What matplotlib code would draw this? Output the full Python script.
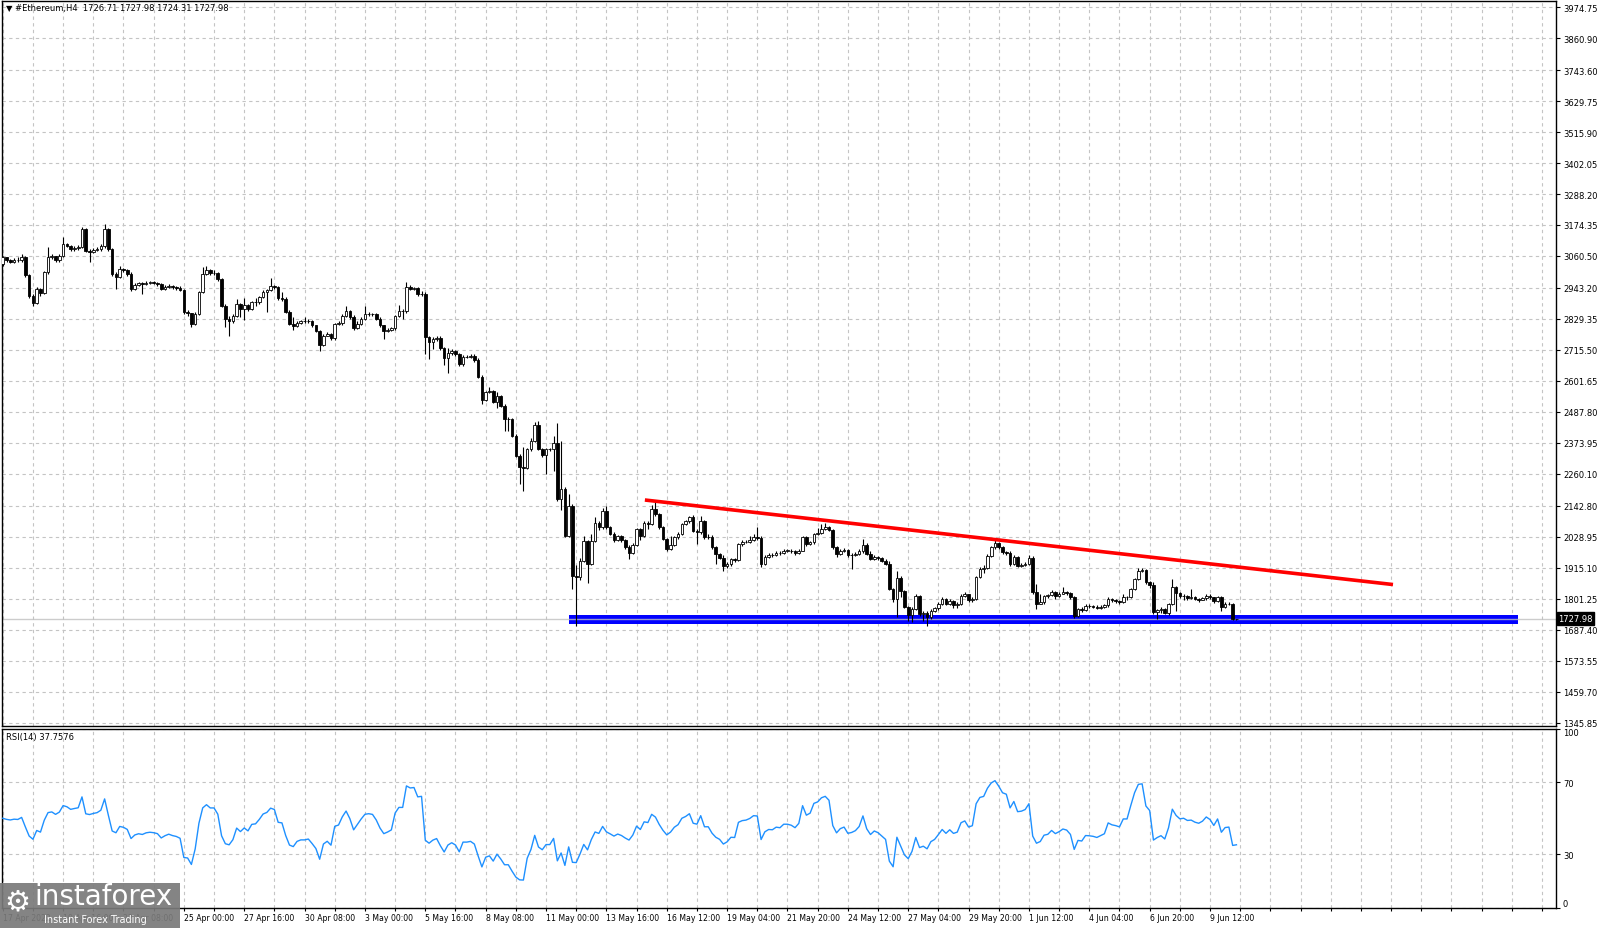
"""ETH/USD H4 candles with a descending trendline, support zone and RSI(14) pane."""

import numpy as np
import matplotlib
matplotlib.use("Agg")
import matplotlib.pyplot as plt
from matplotlib.patches import Rectangle

HEADER = "\u25bc #Ethereum,H4  1726.71 1727.98 1724.31 1727.98"
RSI_TITLE = "RSI(14) 37.7576"

FIRST_OPEN = 3030.0
CLOSES = [
    3055, 3045, 3040, 3046, 3044, 3058, 2990, 2915, 2886, 2938,
    2925, 3000, 3055, 3060, 3045, 3060, 3104, 3098, 3085, 3090,
    3094, 3160, 3080, 3076, 3082, 3086, 3098, 3160, 3086, 2994,
    2982, 3013, 3008, 2996, 2940, 2955, 2960, 2956, 2962, 2964,
    2962, 2958, 2940, 2946, 2950, 2945, 2942, 2936, 2853, 2850,
    2811, 2847, 2927, 2994, 3010, 2998, 2998, 2976, 2878, 2829,
    2822, 2840, 2884, 2866, 2880, 2866, 2890, 2892, 2908, 2928,
    2934, 2950, 2946, 2905, 2903, 2855, 2810, 2802, 2816, 2820,
    2820, 2822, 2805, 2785, 2732, 2768, 2775, 2758, 2810, 2814,
    2840, 2860, 2836, 2795, 2812, 2830, 2846, 2848, 2846, 2830,
    2805, 2786, 2790, 2795, 2840, 2858, 2858, 2945, 2940, 2942,
    2920, 2922, 2762, 2745, 2755, 2760, 2722, 2684, 2705, 2712,
    2700, 2662, 2690, 2690, 2692, 2680, 2617, 2532, 2560, 2564,
    2525, 2545, 2510, 2462, 2462, 2400, 2327, 2285, 2282, 2350,
    2382, 2440, 2352, 2328, 2350, 2350, 2375, 2167, 2205, 2032,
    2143, 1886, 1880, 1940, 2013, 1930, 2013, 2080, 2063, 2124,
    2063, 2040, 2015, 2030, 2015, 1990, 1970, 2000, 2057, 2030,
    2080, 2075, 2130, 2112, 2063, 2020, 1985, 2000, 2026, 2040,
    2075, 2085, 2100, 2050, 2045, 2087, 2027, 2027, 1990, 1965,
    1952, 1922, 1930, 1946, 1945, 2001, 2008, 2010, 2016, 2026,
    2025, 1929, 1955, 1963, 1962, 1970, 1968, 1978, 1978, 1975,
    1968, 1978, 2027, 2002, 2008, 2039, 2044, 2058, 2063, 2055,
    1990, 1965, 1976, 1980, 1960, 1962, 1966, 1975, 2000, 1965,
    1947, 1955, 1950, 1940, 1930, 1837, 1800, 1878, 1830, 1770,
    1740, 1763, 1812, 1745, 1750, 1732, 1757, 1765, 1782, 1800,
    1782, 1794, 1778, 1782, 1812, 1818, 1796, 1800, 1880, 1910,
    1915, 1958, 1990, 2005, 1990, 1972, 1968, 1928, 1955, 1922,
    1924, 1930, 1952, 1824, 1782, 1788, 1810, 1813, 1826, 1812,
    1818, 1826, 1822, 1806, 1738, 1763, 1760, 1775, 1774, 1772,
    1768, 1772, 1776, 1800, 1795, 1793, 1790, 1806, 1806, 1836,
    1873, 1904, 1906, 1861, 1850, 1751, 1758, 1763, 1750, 1780,
    1843, 1822, 1810, 1812, 1805, 1806, 1800, 1797, 1802, 1812,
    1806, 1792, 1806, 1772, 1782, 1783, 1726.71, 1727.98,
]
HIGHS = [
    3062, 3058, 3050, 3052, 3055, 3066, 3060, 2995, 2920, 2945,
    2942, 3006, 3092, 3068, 3062, 3066, 3129, 3110, 3102, 3096,
    3100, 3166, 3162, 3086, 3088, 3092, 3104, 3178, 3162, 3090,
    3000, 3022, 3018, 3012, 3000, 2962, 2966, 2964, 2968, 2970,
    2968, 2964, 2962, 2952, 2956, 2953, 2950, 2950, 2940, 2862,
    2852, 2855, 2932, 3019, 3022, 3014, 3008, 3002, 2980, 2884,
    2840, 2846, 2903, 2888, 2905, 2884, 2895, 2905, 2914, 2935,
    2940, 2980, 2955, 2950, 2928, 2910, 2862, 2835, 2822, 2826,
    2835, 2828, 2826, 2808, 2790, 2772, 2782, 2778, 2816, 2822,
    2846, 2878, 2862, 2842, 2820, 2835, 2876, 2855, 2852, 2850,
    2835, 2808, 2796, 2800, 2845, 2880, 2866, 2964, 2955, 2948,
    2945, 2930, 2928, 2768, 2762, 2766, 2765, 2725, 2722, 2718,
    2716, 2704, 2698, 2696, 2700, 2700, 2684, 2622, 2566, 2580,
    2568, 2560, 2550, 2515, 2468, 2466, 2405, 2332, 2360, 2356,
    2390, 2450, 2455, 2356, 2356, 2356, 2400, 2448, 2380, 2210,
    2186, 2150, 1925, 1950, 2033, 2018, 2040, 2100, 2085, 2136,
    2140, 2068, 2045, 2036, 2034, 2020, 1998, 2006, 2062, 2060,
    2086, 2088, 2145, 2155, 2116, 2068, 2025, 2032, 2032, 2046,
    2080, 2092, 2106, 2108, 2058, 2106, 2090, 2040, 2034, 1996,
    1970, 1962, 1936, 1952, 1952, 2006, 2016, 2016, 2030, 2040,
    2063, 2032, 1962, 1970, 1968, 1976, 1976, 1984, 1984, 1982,
    1980, 1984, 2032, 2030, 2014, 2044, 2060, 2075, 2081, 2068,
    2058, 1995, 1982, 1986, 1984, 1968, 1972, 1982, 2020, 2004,
    1975, 1962, 1958, 1956, 1946, 1940, 1842, 1904, 1884, 1834,
    1774, 1770, 1820, 1815, 1756, 1754, 1762, 1772, 1788, 1806,
    1804, 1800, 1798, 1790, 1820, 1826, 1820, 1806, 1886, 1918,
    1925, 1964, 1996, 2015, 2010, 1994, 1978, 1975, 1960, 1958,
    1934, 1936, 1960, 1958, 1856, 1820, 1815, 1818, 1832, 1830,
    1824, 1843, 1830, 1824, 1810, 1768, 1770, 1780, 1780, 1778,
    1776, 1778, 1782, 1806, 1804, 1800, 1798, 1818, 1812, 1840,
    1878, 1912, 1915, 1910, 1866, 1862, 1764, 1770, 1766, 1786,
    1873, 1848, 1826, 1818, 1816, 1836, 1810, 1804, 1808, 1818,
    1818, 1808, 1812, 1810, 1788, 1790, 1786, 1727.98,
]
LOWS = [
    3022, 3040, 3034, 3036, 3038, 3040, 2985, 2905, 2876, 2884,
    2915, 2920, 2996, 3048, 3038, 3040, 3058, 3092, 3078, 3080,
    3084, 3090, 3075, 3037, 3072, 3078, 3080, 3090, 3080, 2988,
    2939, 2978, 3000, 2988, 2933, 2936, 2950, 2920, 2952, 2958,
    2956, 2950, 2936, 2935, 2942, 2940, 2936, 2930, 2848, 2840,
    2798, 2808, 2845, 2925, 2990, 2990, 2990, 2970, 2872, 2798,
    2768, 2815, 2836, 2838, 2825, 2860, 2862, 2878, 2885, 2905,
    2853, 2930, 2940, 2900, 2895, 2850, 2805, 2790, 2798, 2812,
    2815, 2815, 2800, 2780, 2712, 2728, 2765, 2750, 2752, 2805,
    2808, 2836, 2830, 2790, 2792, 2808, 2826, 2840, 2840, 2825,
    2800, 2755, 2782, 2786, 2790, 2836, 2830, 2852, 2935, 2934,
    2915, 2912, 2700, 2682, 2720, 2748, 2716, 2660, 2630, 2698,
    2694, 2656, 2655, 2684, 2686, 2672, 2612, 2516, 2528, 2556,
    2520, 2500, 2505, 2418, 2418, 2395, 2320, 2223, 2198, 2276,
    2345, 2378, 2346, 2322, 2260, 2342, 2270, 2160, 2127, 2027,
    2028, 1836, 1700, 1870, 1936, 1860, 1925, 2008, 2055, 2058,
    2058, 2035, 2010, 2012, 2008, 1985, 1947, 1966, 1996, 2015,
    2026, 2058, 2072, 2106, 2058, 2015, 1978, 1980, 1994, 2020,
    2035, 2070, 2080, 2045, 2002, 2040, 2022, 2020, 1985, 1928,
    1946, 1904, 1915, 1920, 1935, 1940, 1996, 2004, 2006, 2012,
    2018, 1916, 1925, 1952, 1955, 1958, 1962, 1965, 1972, 1970,
    1963, 1965, 1975, 1996, 2000, 2002, 2034, 2040, 2054, 2050,
    1985, 1955, 1962, 1972, 1955, 1910, 1958, 1962, 1970, 1960,
    1942, 1944, 1944, 1935, 1925, 1832, 1790, 1735, 1806, 1765,
    1720, 1714, 1758, 1738, 1720, 1702, 1728, 1752, 1760, 1778,
    1778, 1778, 1766, 1768, 1776, 1806, 1790, 1790, 1796, 1876,
    1895, 1910, 1955, 1985, 1984, 1965, 1960, 1922, 1925, 1918,
    1916, 1922, 1925, 1818, 1763, 1782, 1782, 1804, 1810, 1800,
    1808, 1818, 1815, 1800, 1730, 1734, 1752, 1756, 1766, 1765,
    1762, 1764, 1768, 1772, 1788, 1786, 1782, 1786, 1798, 1802,
    1832, 1868, 1898, 1855, 1842, 1746, 1726, 1750, 1745, 1742,
    1776, 1757, 1802, 1798, 1798, 1800, 1795, 1790, 1795, 1796,
    1800, 1786, 1788, 1757, 1768, 1776, 1722, 1724.31,
]

PRICE_TICKS = [
    3974.75, 3860.90, 3743.60, 3629.75, 3515.90, 3402.05, 3288.20, 3174.35,
    3060.50, 2943.20, 2829.35, 2715.50, 2601.65, 2487.80, 2373.95, 2260.10,
    2142.80, 2028.95, 1915.10, 1801.25, 1687.40, 1573.55, 1459.70, 1345.85,
]
DATE_LABELS = [
    "17 Apr 2022", "19 Apr 16:00", "22 Apr 08:00", "25 Apr 00:00",
    "27 Apr 16:00", "30 Apr 08:00", "3 May 00:00", "5 May 16:00",
    "8 May 08:00", "11 May 00:00", "13 May 16:00", "16 May 12:00",
    "19 May 04:00", "21 May 20:00", "24 May 12:00", "27 May 04:00",
    "29 May 20:00", "1 Jun 12:00", "4 Jun 04:00", "6 Jun 20:00",
    "9 Jun 12:00",
]
BARS_PER_LABEL = 16
BARS_PER_GRID = 8

BID = 1727.98
TREND_BARS = [170.2, 368.5]
TREND_PRICES = [2163.7, 1853.0]
SUPPORT_BARS = [150.2, 401.5]
SUPPORT_PRICES = [1706.8, 1740.6]
RSI_LEVELS = [0, 30, 70, 100]

W, H = 1600, 929
GRID_KW = dict(color="#c4c4c4", linestyle=(0, (3, 3)), linewidth=0.8)


def wilder_rsi(closes, period=14):
    diffs = np.diff(closes)
    avg_gain = avg_loss = np.mean(np.abs(diffs[:period]))
    out = [50.0]
    for d in diffs:
        avg_gain = (avg_gain * (period - 1) + max(d, 0.0)) / period
        avg_loss = (avg_loss * (period - 1) + max(-d, 0.0)) / period
        out.append(100.0 - 100.0 / (1.0 + avg_gain / avg_loss))
    return np.array(out)


def main():
    closes = np.array(CLOSES, dtype=float)
    opens = np.concatenate([[FIRST_OPEN], closes[:-1]])
    highs = np.maximum(np.array(HIGHS, dtype=float), np.maximum(opens, closes))
    lows = np.minimum(np.array(LOWS, dtype=float), np.minimum(opens, closes))
    x = np.arange(len(closes))
    rsi = wilder_rsi(closes)

    fig = plt.figure(figsize=(W / 100, H / 100), dpi=100, facecolor="white")

    def px_axes(left, top, right, bottom):
        return fig.add_axes([left / W, 1 - bottom / H, (right - left) / W, (bottom - top) / H])

    ax = px_axes(2, 2, 1556, 726.5)
    ax_rsi = px_axes(2, 729.5, 1556, 909)
    xlim = (-0.2, 411.7)
    grid_x = np.arange(0, 412, BARS_PER_GRID)

    # price pane
    ax.set_xlim(*xlim)
    ax.set_ylim(1335.0, 3997.5)
    ax.set_xticks(grid_x)
    ax.set_yticks(PRICE_TICKS)
    ax.set_yticklabels([f"{p:.2f}" for p in PRICE_TICKS])
    ax.yaxis.tick_right()
    ax.tick_params(axis="y", direction="out", length=3, width=0.8, pad=2, labelsize=6)
    ax.tick_params(axis="x", length=0, labelbottom=False)
    ax.grid(True, **GRID_KW)
    ax.set_axisbelow(True)

    ax.fill_between(SUPPORT_BARS, SUPPORT_PRICES[0], SUPPORT_PRICES[1],
                    color="#0000ff", linewidth=0, zorder=1)
    ax.axhline(BID, color="#c0c0c0", linewidth=1, alpha=0.8, zorder=1.5)

    up = closes >= opens
    body_lo = np.minimum(opens, closes)
    body_h = np.maximum(np.abs(closes - opens), 0.8)
    ax.vlines(x, lows, highs, color="black", linewidth=0.8, zorder=3)
    ax.bar(x[up], body_h[up], bottom=body_lo[up], width=0.7,
           facecolor="white", edgecolor="black", linewidth=0.6, zorder=4)
    ax.bar(x[~up], body_h[~up], bottom=body_lo[~up], width=0.7,
           facecolor="black", edgecolor="black", linewidth=0.6, zorder=4)

    ax.plot(TREND_BARS, TREND_PRICES, color="#ff0000", linewidth=2.6,
            solid_capstyle="butt", zorder=5)

    ax.text(1.0015, BID, f"{BID:.2f}", transform=ax.get_yaxis_transform(),
            ha="left", va="center", fontsize=6, color="white",
            bbox=dict(boxstyle="square,pad=0.2", facecolor="black", edgecolor="black"))
    ax.text(4 / 1554, 1 - 7 / 724.5, HEADER, transform=ax.transAxes,
            ha="left", va="center", fontsize=6, color="black", zorder=6)

    # RSI pane
    ax_rsi.plot(x, rsi, color="#1e90ff", linewidth=1, zorder=3)
    ax_rsi.set_xlim(*xlim)
    ax_rsi.set_ylim(0, 100)
    ax_rsi.set_yticks(RSI_LEVELS)
    ax_rsi.set_yticklabels([str(v) for v in RSI_LEVELS])
    ax_rsi.yaxis.tick_right()
    ax_rsi.tick_params(axis="y", direction="out", length=3, width=0.8, pad=2, labelsize=6)
    ylabels = ax_rsi.get_yticklabels()
    ylabels[0].set_va("bottom")
    ylabels[-1].set_va("top")

    ax_rsi.set_xticks(grid_x)
    date_text = []
    for b in grid_x:
        k = b // BARS_PER_LABEL
        if b % BARS_PER_LABEL == 0 and k < len(DATE_LABELS):
            date_text.append(DATE_LABELS[k])
        else:
            date_text.append("")
    ax_rsi.set_xticklabels(date_text, ha="left")
    ax_rsi.tick_params(axis="x", direction="out", length=2, pad=1.5, labelsize=5.6)
    ax_rsi.grid(True, **GRID_KW)
    ax_rsi.set_axisbelow(True)
    ax_rsi.text(4 / 1554, 1 - 8 / 179.5, RSI_TITLE, transform=ax_rsi.transAxes,
                ha="left", va="center", fontsize=6, color="black")

    for a in (ax, ax_rsi):
        for spine in a.spines.values():
            spine.set_color("black")
            spine.set_linewidth(1.0)

    # watermark box, bottom left (covers the first date labels, as in the source)
    fig.add_artist(Rectangle((0, 0), 180 / W, 45 / H, transform=fig.transFigure,
                             facecolor="#7a7a7a", edgecolor="none", alpha=0.92, zorder=10))
    fig.text(4 / W, 1 - 902 / H, "\u2699", color="white", fontsize=21,
             ha="left", va="center", zorder=11)
    fig.text(34 / W, 1 - 897 / H, "instaforex", color="white", fontsize=20,
             ha="left", va="center", zorder=11)
    fig.text(44 / W, 1 - 920 / H, "Instant Forex Trading", color="white", fontsize=7,
             ha="left", va="center", zorder=11)

    fig.savefig("out.png", dpi=100, facecolor="white")
    plt.close(fig)


if __name__ == "__main__":
    main()
